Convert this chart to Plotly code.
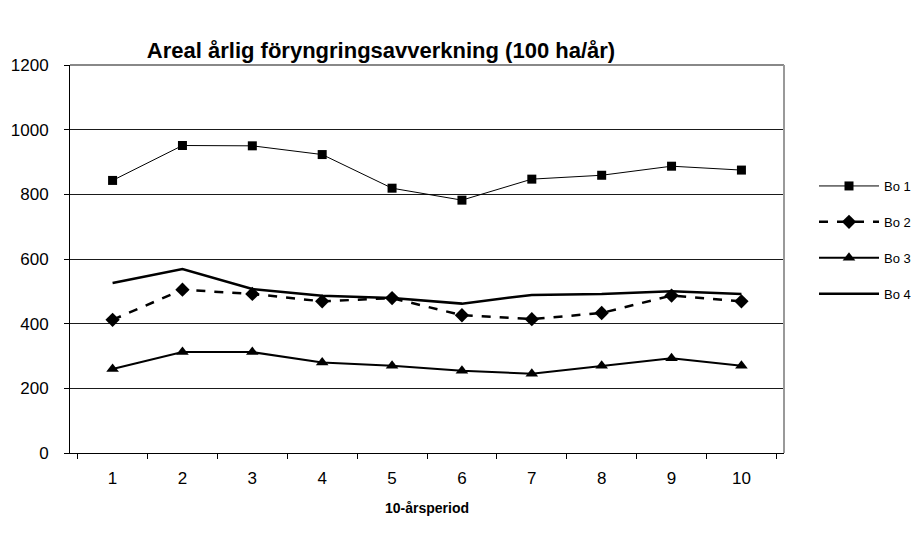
import plotly.graph_objects as go

periods = ["1", "2", "3", "4", "5", "6", "7", "8", "9", "10"]
bo1 = [843, 951, 950, 923, 819, 782, 847, 859, 887, 875]
bo2 = [412, 505, 492, 469, 479, 426, 414, 433, 487, 469]
bo3 = [260, 312, 312, 280, 270, 254, 245, 270, 293, 270]
bo4 = [526, 569, 507, 486, 479, 462, 489, 492, 500, 492]
series_names = ["Bo 1", "Bo 2", "Bo 3", "Bo 4"]
title_text = "Areal årlig föryngringsavverkning (100 ha/år)"
x_title = "10-årsperiod"

W, H = 921, 536
L, R, T, B = 70, 137, 65, 83

fig = go.Figure()
fig.add_trace(go.Scatter(x=periods, y=bo1, name=series_names[0], mode="lines+markers",
                         line=dict(color="black", width=1),
                         marker=dict(symbol="square", size=9, color="black"),
                         legendgroup="a"))
fig.add_trace(go.Scatter(x=periods, y=bo2, name=series_names[1], mode="lines+markers",
                         line=dict(color="black", width=2.5, dash="dash"),
                         marker=dict(symbol="diamond", size=11, color="black"),
                         legendgroup="b"))
fig.add_trace(go.Scatter(x=periods, y=bo3, name=series_names[2], mode="lines+markers",
                         line=dict(color="black", width=2),
                         marker=dict(symbol="triangle-up", size=11, color="black"),
                         legendgroup="c"))
fig.add_trace(go.Scatter(x=periods, y=bo4, name=series_names[3], mode="lines",
                         line=dict(color="black", width=2.5),
                         legendgroup="d"))

fig.update_layout(
    width=W, height=H,
    margin=dict(l=L, r=R, t=T, b=B, autoexpand=False),
    paper_bgcolor="white", plot_bgcolor="white",
    font=dict(family="Liberation Sans, Arial, sans-serif", size=14, color="black"),
    title=dict(text="<b>" + title_text + "</b>", x=381 / W, xanchor="center",
               xref="container", y=1 - 50 / H, yanchor="middle", yref="container",
               font=dict(size=22)),
    showlegend=True,
    legend=dict(x=(814 - L) / (W - L - R), xanchor="left", y=(H - B - 171) / (H - T - B),
                yanchor="top", font=dict(size=13), tracegroupgap=16,
                bgcolor="rgba(0,0,0,0)", borderwidth=0, itemwidth=60),
    xaxis=dict(type="category", showline=True, linecolor="black", linewidth=1,
               ticks="outside", tickson="boundaries", ticklen=5, tickcolor="black",
               showgrid=False, tickfont=dict(size=17), ticklabelstandoff=10,
               title=dict(text="<b>" + x_title + "</b>", font=dict(size=14), standoff=15)),
    yaxis=dict(range=[0, 1200], dtick=200, showline=True, linecolor="black", linewidth=1,
               ticks="outside", ticklen=5, tickcolor="black",
               showgrid=True, gridcolor="#1a1a1a", gridwidth=1, zeroline=False,
               tickfont=dict(size=17), ticklabelstandoff=12),
    shapes=[
        dict(type="line", xref="paper", yref="paper", x0=0, x1=1, y0=1, y1=1,
             line=dict(color="#888888", width=2), layer="above"),
        dict(type="line", xref="paper", yref="paper", x0=1, x1=1, y0=0, y1=1,
             line=dict(color="#999999", width=2), layer="above"),
    ],
)

fig.write_html("out.html")
